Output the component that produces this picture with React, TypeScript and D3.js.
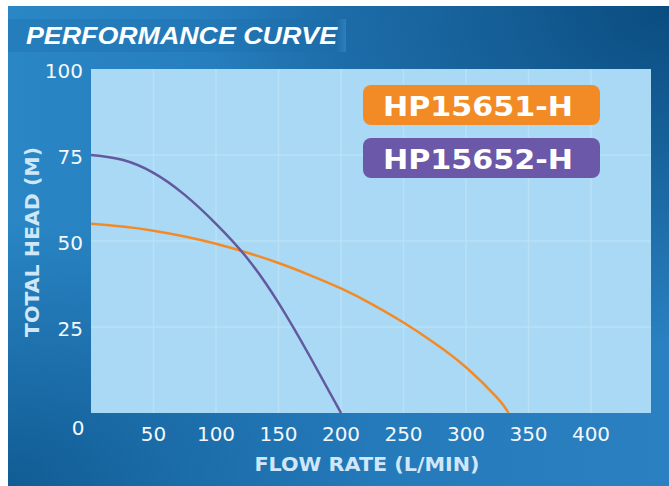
import * as d3 from 'd3';
import React from 'react';

// values
const flowTicks = [50, 100, 150, 200, 250, 300, 350, 400];
const headTicks = [25, 50, 75, 100];
const gridFlow = [50, 100, 150, 200, 250, 300, 350, 400];
const gridHead = [25, 50, 75];

const models = ['HP15651-H', 'HP15652-H'];

const orangeFlow = [0, 25, 50, 75, 100, 125, 150, 175, 200, 225, 250, 275, 300, 325, 334];
const orangeHead = [55, 54.2, 53, 51.3, 49.2, 46.6, 43.6, 40.1, 36.2, 31.6, 26.3, 20.3, 13.3, 4.4, 0];

const purpleFlow = [0, 25, 50, 75, 100, 125, 150, 175, 200];
const purpleHead = [75, 73.6, 69.8, 63.4, 55, 45, 32, 16.5, 0];

const W = 669;
const H = 486;
const plot = { left: 91, right: 651, top: 69, bottom: 413 };

const ORANGE = '#f28b26';
const PURPLE = '#625a9f';

function App(): any {
  const x = d3.scaleLinear().domain([0, 448]).range([plot.left, plot.right]);
  const y = d3.scaleLinear().domain([0, 100]).range([plot.bottom, plot.top]);

  const line = d3
    .line<[number, number]>()
    .x((d) => x(d[0]))
    .y((d) => y(d[1]))
    .curve(d3.curveNatural);

  const orangePts = orangeFlow.map((f, i) => [f, orangeHead[i]] as [number, number]);
  const purplePts = purpleFlow.map((f, i) => [f, purpleHead[i]] as [number, number]);

  const legendColors = [ORANGE, '#6b58a8'];
  const legendY = [85, 138];

  return (
    <svg
      width={W}
      height={H}
      style={{ position: 'absolute', left: 0, top: 0, display: 'block' }}
    >
      <defs>
        <linearGradient id="bg" x1="0" y1="0" x2="1" y2="0">
          <stop offset="0" stopColor="#2a86c5" />
          <stop offset="0.5" stopColor="#2479b9" />
          <stop offset="1" stopColor="#2a80c0" />
        </linearGradient>
        <radialGradient id="darkTR" cx="1" cy="0" r="0.7">
          <stop offset="0" stopColor="#08497c" stopOpacity="0.95" />
          <stop offset="1" stopColor="#08497c" stopOpacity="0" />
        </radialGradient>
        <radialGradient id="darkBL" cx="0" cy="1" r="0.55">
          <stop offset="0" stopColor="#0a5188" stopOpacity="0.8" />
          <stop offset="1" stopColor="#0a5188" stopOpacity="0" />
        </radialGradient>
        <linearGradient id="band" x1="0" y1="0" x2="1" y2="0">
          <stop offset="0" stopColor="#1a6aa6" stopOpacity="0.3" />
          <stop offset="0.97" stopColor="#1a6aa6" stopOpacity="0.3" />
          <stop offset="1" stopColor="#4fa5dd" stopOpacity="0.35" />
        </linearGradient>
      </defs>

      <rect x={0} y={0} width={W} height={H} fill="#ffffff" />
      <rect x={8} y={6} width={W - 8} height={H - 6} fill="url(#bg)" />
      <rect x={8} y={6} width={W - 8} height={H - 6} fill="url(#darkTR)" />
      <rect x={8} y={6} width={W - 8} height={H - 6} fill="url(#darkBL)" />

      {/* title band */}
      <rect x={8} y={19} width={338} height={33} fill="url(#band)" />
      <text
        x={26}
        y={44}
        fill="#ffffff"
        fontFamily="Liberation Sans, Arial, sans-serif"
        fontWeight="bold"
        fontStyle="italic"
        fontSize={24}
        textLength={311}
        lengthAdjust="spacingAndGlyphs"
      >
        PERFORMANCE CURVE
      </text>

      {/* plot area */}
      <rect
        x={plot.left}
        y={plot.top}
        width={plot.right - plot.left}
        height={plot.bottom - plot.top}
        fill="#aad9f6"
      />
      {gridFlow.map((f) => (
        <line
          key={'gx' + f}
          x1={x(f)}
          x2={x(f)}
          y1={plot.top}
          y2={plot.bottom}
          stroke="#c3e5f9"
          strokeOpacity={0.6}
          strokeWidth={1.5}
        />
      ))}
      {gridHead.map((h) => (
        <line
          key={'gy' + h}
          x1={plot.left}
          x2={plot.right}
          y1={y(h)}
          y2={y(h)}
          stroke="#c3e5f9"
          strokeOpacity={0.6}
          strokeWidth={1.5}
        />
      ))}

      {/* curves */}
      <path d={line(orangePts) || ''} fill="none" stroke={ORANGE} strokeWidth={2.5} />
      <path d={line(purplePts) || ''} fill="none" stroke={PURPLE} strokeWidth={2.5} />

      {/* legend */}
      {models.map((m, i) => (
        <g key={m}>
          <rect
            x={363}
            y={legendY[i]}
            width={237}
            height={40}
            rx={8}
            fill={legendColors[i]}
          />
          <text
            x={478}
            y={legendY[i] + 31}
            textAnchor="middle"
            fill="#ffffff"
            fontFamily="DejaVu Sans, sans-serif"
            fontWeight="bold"
            fontSize={26}
            textLength={190}
            lengthAdjust="spacingAndGlyphs"
          >
            {m}
          </text>
        </g>
      ))}

      {/* tick labels */}
      <g fontFamily="DejaVu Sans, sans-serif" fontSize={20} fill="#f4f8fc">
        {flowTicks.map((f) => (
          <text key={'xt' + f} x={x(f)} y={441} textAnchor="middle">
            {f}
          </text>
        ))}
        {headTicks.map((h) => (
          <text key={'yt' + h} x={83} y={y(h) + 2} dy="0.36em" textAnchor="end">
            {h}
          </text>
        ))}
        <text x={78} y={435} textAnchor="middle">
          0
        </text>
      </g>

      {/* axis titles */}
      <text
        x={367}
        y={471}
        textAnchor="middle"
        fill="#cfe7f8"
        fontFamily="DejaVu Sans, sans-serif"
        fontWeight="bold"
        fontSize={19}
        textLength={225}
        lengthAdjust="spacingAndGlyphs"
      >
        FLOW RATE (L/MIN)
      </text>
      <text
        transform="translate(39,242) rotate(-90)"
        textAnchor="middle"
        fill="#cfe7f8"
        fontFamily="DejaVu Sans, sans-serif"
        fontWeight="bold"
        fontSize={19}
        textLength={190}
        lengthAdjust="spacingAndGlyphs"
      >
        TOTAL HEAD (M)
      </text>
    </svg>
  );
}

export default App;
